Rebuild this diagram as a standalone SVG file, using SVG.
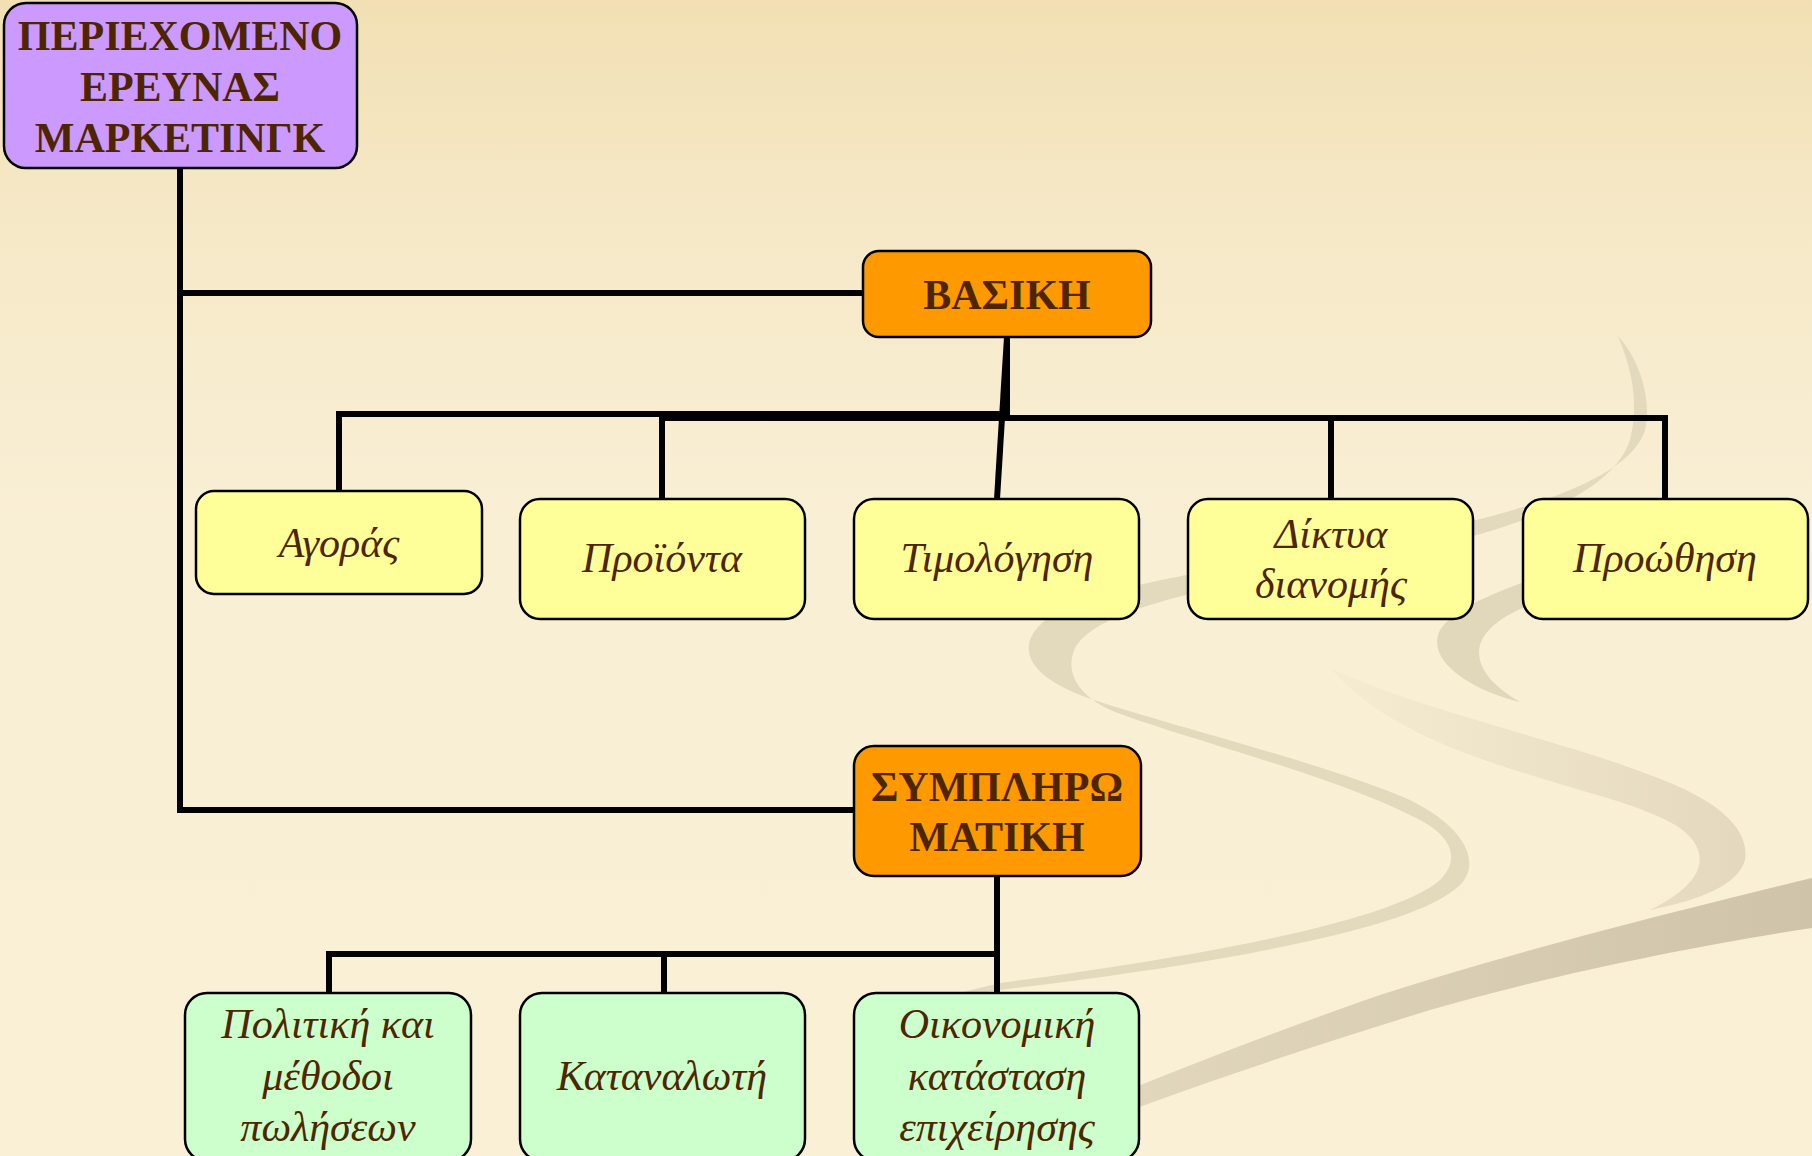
<svg xmlns="http://www.w3.org/2000/svg" width="1812" height="1156" viewBox="0 0 1812 1156">
<defs>
<linearGradient id="bg" x1="0" y1="0" x2="0" y2="1">
<stop offset="0" stop-color="#f2e0b4"/>
<stop offset="0.2" stop-color="#f6e9c8"/>
<stop offset="0.45" stop-color="#f9efd5"/>
<stop offset="1" stop-color="#f9f0d6"/>
</linearGradient>
<linearGradient id="gD" x1="0" y1="0" x2="1" y2="0">
<stop offset="0" stop-color="#e6dcc2"/>
<stop offset="1" stop-color="#cfc4a9"/>
</linearGradient>
<linearGradient id="gC" x1="0" y1="0" x2="1" y2="0">
<stop offset="0" stop-color="#f5ecd2"/>
<stop offset="1" stop-color="#e4d9be"/>
</linearGradient>
<style>
.box{stroke:#000;stroke-width:2.5}
.title{fill:#cc99ff}
.main{fill:#ff9900}
.yel{fill:#ffff99}
.grn{fill:#ccffcc}
.tb{font-family:"Liberation Serif","Times New Roman",serif;font-weight:bold;font-size:42px;fill:#4d2600;text-anchor:middle}
.ti{font-family:"Liberation Serif","Times New Roman",serif;font-style:italic;font-size:42px;fill:#4d2600;text-anchor:middle}
.conn{fill:none;stroke:#000;stroke-width:6;stroke-linejoin:miter;stroke-linecap:square}
</style>
</defs>
<rect width="1812" height="1156" fill="url(#bg)"/>
<g id="background-swooshes">
<path d="M1618,336 C1640,360 1652,400 1645,430 C1630,480 1520,520 1300,555 C1160,578 1070,595 1040,625 C1015,650 1030,680 1100,702 C1180,728 1330,765 1410,800 C1470,830 1480,865 1460,885 C1420,925 1250,960 1000,990 L930,1000 L1000,983 C1250,950 1400,915 1440,880 C1460,860 1455,835 1410,815 C1330,775 1190,740 1115,712 C1075,695 1065,670 1075,648 C1095,615 1170,595 1300,572 C1500,540 1610,500 1630,440 C1640,400 1630,365 1618,336 Z" fill="#e3d9bd"/>
<path d="M1600,560 C1540,575 1460,600 1440,630 C1425,660 1470,690 1520,702 C1490,685 1475,665 1480,645 C1490,615 1540,598 1600,585 Z" fill="#e1d7bb"/>
<path d="M1330,668 C1420,710 1560,740 1650,775 C1720,800 1750,830 1745,860 C1738,885 1700,900 1650,910 C1690,890 1705,870 1698,850 C1690,825 1650,810 1580,790 C1480,760 1390,735 1330,668 Z" fill="url(#gC)"/>
<path d="M1812,878 L1812,928 C1700,945 1550,975 1430,1010 C1300,1050 1150,1100 1000,1160 L960,1160 C1100,1100 1250,1040 1380,995 C1520,950 1680,910 1812,878 Z" fill="url(#gD)"/>
</g>
<g id="connectors">
<path class="conn" d="M180,168 V810 H854"/>
<path class="conn" d="M180,293 H863"/>
<path class="conn" d="M1007,337 V414 H339 V491"/>
<path class="conn" d="M1007,337 V418 H662 V499"/>
<path class="conn" d="M1007,337 L997,499"/>
<path class="conn" d="M1007,337 V418 H1331 V499"/>
<path class="conn" d="M1007,337 V418 H1665 V499"/>
<path class="conn" d="M997,876 V954 H329 V993"/>
<path class="conn" d="M997,954 H664 V993"/>
<path class="conn" d="M997,876 V993"/>
</g>
<g id="node-content">
<rect class="box title" x="4" y="3" width="353" height="165" rx="22"/>
<text class="tb" x="180" y="50">ΠΕΡΙΕΧΟΜΕΝΟ</text>
<text class="tb" x="180" y="101">ΕΡΕΥΝΑΣ</text>
<text class="tb" x="180" y="152">ΜΑΡΚΕΤΙΝΓΚ</text>
</g>
<g id="node-basic">
<rect class="box main" x="863" y="251" width="288" height="86" rx="16"/>
<text class="tb" x="1007" y="309">ΒΑΣΙΚΗ</text>
</g>
<g id="node-agoras">
<rect class="box yel" x="196" y="491" width="286" height="103" rx="18"/>
<text class="ti" x="339" y="557">Αγοράς</text>
</g>
<g id="node-proionta">
<rect class="box yel" x="520" y="499" width="285" height="120" rx="20"/>
<text class="ti" x="662" y="572">Προϊόντα</text>
</g>
<g id="node-timologisi">
<rect class="box yel" x="854" y="499" width="285" height="120" rx="20"/>
<text class="ti" x="997" y="572">Τιμολόγηση</text>
</g>
<g id="node-diktya">
<rect class="box yel" x="1188" y="499" width="285" height="120" rx="20"/>
<text class="ti" x="1331" y="548">Δίκτυα</text>
<text class="ti" x="1331" y="598">διανομής</text>
</g>
<g id="node-proothisi">
<rect class="box yel" x="1523" y="499" width="285" height="120" rx="20"/>
<text class="ti" x="1665" y="572">Προώθηση</text>
</g>
<g id="node-symplirom">
<rect class="box main" x="854" y="746" width="287" height="130" rx="20"/>
<text class="tb" x="997" y="801">ΣΥΜΠΛΗΡΩ</text>
<text class="tb" x="997" y="851">ΜΑΤΙΚΗ</text>
</g>
<g id="node-politiki">
<rect class="box grn" x="185" y="993" width="286" height="168" rx="22"/>
<text class="ti" x="328" y="1038">Πολιτική και</text>
<text class="ti" x="328" y="1090">μέθοδοι</text>
<text class="ti" x="328" y="1141">πωλήσεων</text>
</g>
<g id="node-katanaloti">
<rect class="box grn" x="520" y="993" width="285" height="168" rx="22"/>
<text class="ti" x="662" y="1090">Καταναλωτή</text>
</g>
<g id="node-oikonomiki">
<rect class="box grn" x="854" y="993" width="285" height="168" rx="22"/>
<text class="ti" x="997" y="1038">Οικονομική</text>
<text class="ti" x="997" y="1090">κατάσταση</text>
<text class="ti" x="997" y="1141">επιχείρησης</text>
</g>
</svg>
